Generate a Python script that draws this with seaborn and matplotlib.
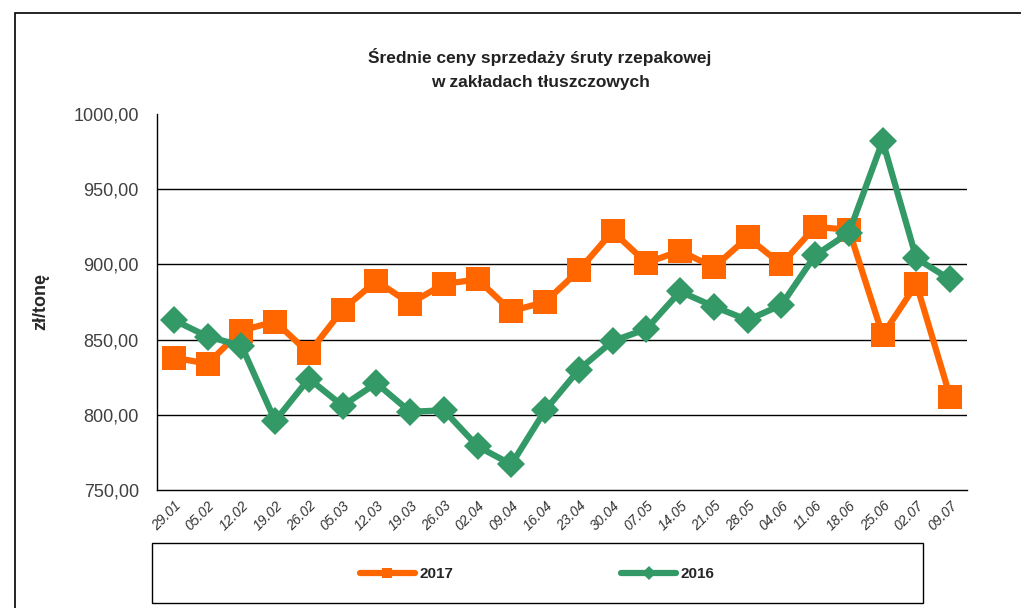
import numpy as np
import pandas as pd
import matplotlib
matplotlib.use("Agg")
import matplotlib.pyplot as plt
from matplotlib.patches import Rectangle
from matplotlib.lines import Line2D
from matplotlib.ticker import FuncFormatter, FixedLocator
import seaborn as sns

dates = ['29.01', '05.02', '12.02', '19.02', '26.02', '05.03', '12.03', '19.03',
         '26.03', '02.04', '09.04', '16.04', '23.04', '30.04', '07.05', '14.05',
         '21.05', '28.05', '04.06', '11.06', '18.06', '25.06', '02.07', '09.07']
ceny_2017 = [838, 834, 856, 862, 841, 870, 889, 874, 887, 890, 869, 875,
             896, 922, 901, 909, 898, 918, 900, 925, 923, 853, 887, 812]
ceny_2016 = [863, 852, 846, 796, 824, 806, 821, 802, 803, 779, 767, 803,
             830, 849, 857, 882, 872, 863, 873, 906, 921, 982, 904, 890]

df = pd.DataFrame({
    'x': list(range(len(dates))) * 2,
    'cena': ceny_2017 + ceny_2016,
    'rok': ['2017'] * len(dates) + ['2016'] * len(dates),
})

sns.set_style('white')
plt.rcParams['font.family'] = ['Liberation Sans', 'DejaVu Sans']

fig = plt.figure(figsize=(10.21, 6.08), dpi=100)
ax = fig.add_axes([157 / 1021, 1 - 490 / 608, 810 / 1021, 376 / 608])

kolory = {'2017': '#FF6600', '2016': '#339966'}
markery = {'2017': 's', '2016': 'D'}
rozmiary = {'2017': 17, '2016': 14.5}
for rok in ['2017', '2016']:
    sub = df[df['rok'] == rok]
    sns.lineplot(data=sub, x='x', y='cena', ax=ax, color=kolory[rok],
                 marker=markery[rok], markersize=rozmiary[rok],
                 markeredgewidth=0, linewidth=4.5, legend=False)

ax.set_xlim(-0.5, len(dates) - 0.5)
ax.set_ylim(750, 1000)
ax.set_yticks([750, 800, 850, 900, 950, 1000])
ax.yaxis.set_major_formatter(FuncFormatter(lambda v, p: f'{v:.2f}'.replace('.', ',')))
ax.set_xticks(range(len(dates)))
ax.set_xticklabels(dates, rotation=45, ha='right', rotation_mode='anchor',
                   fontsize=10, color='#333333', style='italic')
ax.xaxis.set_minor_locator(FixedLocator(np.arange(-0.5, len(dates), 1)))
ax.tick_params(axis='x', which='major', length=0, pad=6)
ax.tick_params(axis='x', which='minor', length=5, color='black', width=1, direction='out')
ax.tick_params(axis='y', length=5, color='black', width=1, direction='out',
               labelsize=13, labelcolor='#404040', pad=8)
for v in [800, 850, 900, 950]:
    ax.axhline(v, color='black', linewidth=1, zorder=0)
for s in ['top', 'right']:
    ax.spines[s].set_visible(False)
for s in ['left', 'bottom']:
    ax.spines[s].set_color('black')
    ax.spines[s].set_linewidth(1)
ax.set_xlabel('')
ax.set_ylabel('zł/tonę', fontsize=13, fontweight='bold')
ax.yaxis.set_label_coords(-0.133, 0.5)

fig.text(540 / 1021, 1 - 57 / 608, 'Średnie ceny sprzedaży śruty rzepakowej',
         ha='center', va='center', fontsize=12.5, fontweight='bold', color='#222222')
fig.text(540 / 1021, 1 - 82 / 608, 'w zakładach tłuszczowych',
         ha='center', va='center', fontsize=12.5, fontweight='bold', color='#222222')

# outer frame and legend box
fig.patches.append(Rectangle((15 / 1021, -0.1), 1.2, 1 - 13 / 608 + 0.1,
                             transform=fig.transFigure, fill=False,
                             edgecolor='black', linewidth=1.2))
fig.patches.append(Rectangle((152 / 1021, 1 - 603 / 608), 771 / 1021, 60 / 608,
                             transform=fig.transFigure, fill=False,
                             edgecolor='black', linewidth=1))

handles = [Line2D([], [], color=kolory[r], marker=markery[r], markersize=7,
                  markeredgewidth=0, linewidth=4.5) for r in ['2017', '2016']]
fig.legend(handles, ['2017', '2016'], loc='center',
           bbox_to_anchor=(537 / 1021, 1 - 574 / 608),
           ncol=2, frameon=False, handlelength=3.6, columnspacing=11,
           prop={'weight': 'bold', 'size': 11}, handletextpad=0.3)

fig.savefig('out.png', dpi=100)
